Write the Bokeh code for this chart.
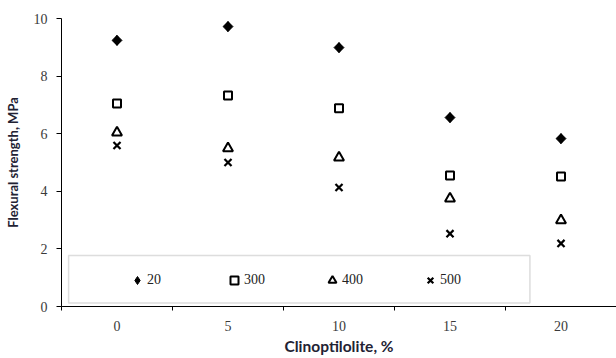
import numpy as np
from bokeh.plotting import figure
from bokeh.models import Range1d, FixedTicker, Legend, LegendItem, BoxAnnotation
from bokeh.embed import file_html
from bokeh.resources import INLINE

# ---- data ----
clinoptilolite = [0, 5, 10, 15, 20]
s20 = [9.24, 9.72, 8.99, 6.56, 5.83]
s300 = [7.05, 7.33, 6.88, 4.55, 4.51]
s400 = [6.04, 5.49, 5.17, 3.75, 2.99]
s500 = [5.59, 5.00, 4.13, 2.53, 2.19]
series_labels = ["20", "300", "400", "500"]
y_ticks = [0, 2, 4, 6, 8, 10]
x_bounds = [-2.5, 2.5, 7.5, 12.5, 17.5, 22.5]

p = figure(width=616, height=358, output_backend="svg", toolbar_location=None,
           x_range=Range1d(-2.5, 22.5), y_range=Range1d(0, 10),
           min_border_left=61, min_border_right=0, min_border_top=18, min_border_bottom=52)
p.outline_line_color = None
p.xgrid.visible = False
p.ygrid.visible = False
p.background_fill_color = "white"
p.border_fill_color = "white"

# diamond used for the legend (legend ignores marker angle); hidden under r1
r1_leg = p.scatter(clinoptilolite, s20, marker="diamond", size=10,
                   fill_color="black", line_color="black", line_width=1)
r1 = p.scatter(clinoptilolite, s20, marker="square", angle=np.pi / 4, size=7,
               fill_color="black", line_color="black", line_width=1)
r2 = p.scatter(clinoptilolite, s300, marker="square", size=8,
               fill_color=None, line_color="black", line_width=2)
r3 = p.scatter(clinoptilolite, s400, marker="triangle", size=10,
               fill_color=None, line_color="black", line_width=2)
r4 = p.scatter(clinoptilolite, s500, marker="x", size=10,
               line_color="black", line_width=2.2)

# axes
xa = p.xaxis[0]
xa.ticker = FixedTicker(ticks=clinoptilolite, minor_ticks=x_bounds)
xa.major_tick_out = 0
xa.major_tick_in = 0
xa.minor_tick_out = 4
xa.minor_tick_in = 0
xa.minor_tick_line_color = "black"
xa.axis_line_color = "black"
xa.major_label_text_font = "Liberation Serif"
xa.major_label_text_font_size = "14px"
xa.major_label_text_color = "#3a3a3a"
xa.major_label_standoff = 10
xa.axis_label = "Clinoptilolite, %"
xa.axis_label_text_font = "Lato"
xa.axis_label_text_font_style = "bold"
xa.axis_label_text_font_size = "15.5px"
xa.axis_label_text_color = "#222233"
xa.axis_label_standoff = 3

ya = p.yaxis[0]
ya.ticker = FixedTicker(ticks=y_ticks)
ya.major_tick_out = 5
ya.major_tick_in = 0
ya.minor_tick_out = 0
ya.minor_tick_in = 0
ya.axis_line_color = "black"
ya.major_tick_line_color = "black"
ya.major_label_text_font = "Liberation Serif"
ya.major_label_text_font_size = "14px"
ya.major_label_text_color = "#3a3a3a"
ya.major_label_standoff = 9
ya.axis_label = "Flexural strength, MPa"
ya.axis_label_text_font = "Lato"
ya.axis_label_text_font_style = "bold"
ya.axis_label_text_font_size = "13px"
ya.axis_label_text_color = "#222233"
ya.axis_label_standoff = 10

# legend box
box = BoxAnnotation(left=-2.18, right=18.6, bottom=0.12, top=1.77,
                    fill_alpha=0, line_color="#909090", line_width=1.5)
p.add_layout(box)

legend = Legend(items=[LegendItem(label=series_labels[0], renderers=[r1_leg]),
                       LegendItem(label=series_labels[1], renderers=[r2]),
                       LegendItem(label=series_labels[2], renderers=[r3]),
                       LegendItem(label=series_labels[3], renderers=[r4])],
                orientation="horizontal", location=(66, 16),
                border_line_color=None, background_fill_alpha=0,
                padding=0, margin=0, spacing=57, label_standoff=0,
                glyph_width=20, glyph_height=20,
                label_text_font="Liberation Serif", label_text_font_size="14px",
                label_text_color="#222222")
p.add_layout(legend)

open("out.html", "w").write(file_html(p, INLINE))
